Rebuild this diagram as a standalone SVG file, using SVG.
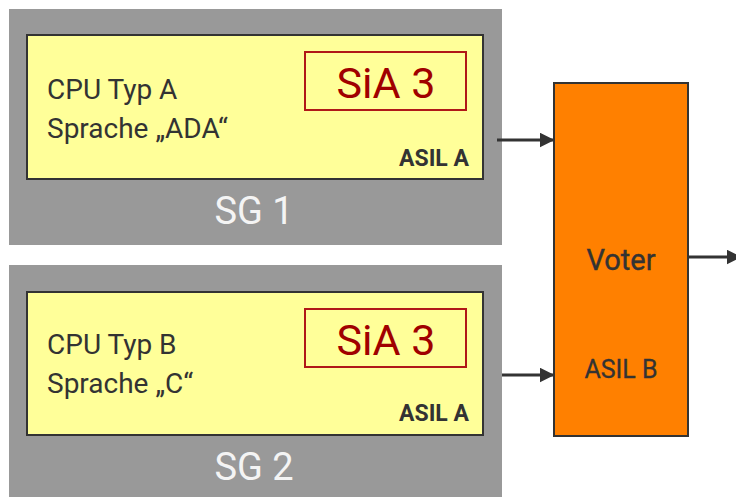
<svg xmlns="http://www.w3.org/2000/svg" width="736" height="497" viewBox="0 0 736 497">
  <style>
    .sg { fill: #999999; }
    .unit { fill: #ffff99; stroke: #333333; stroke-width: 2; }
    .sia { fill: none; stroke: #b01818; stroke-width: 2; }
    .txt { font-family: Roboto, "Liberation Sans", Arial, sans-serif; fill: #333333; }
    .main { font-size: 28px; }
    .siat { font-size: 43px; fill: #a00000; text-anchor: middle; }
    .asil { font-size: 23px; font-weight: bold; text-anchor: end; }
    .sgt { font-size: 38px; fill: #f4f4f4; text-anchor: middle; }
    .voter { fill: #ff8000; stroke: #333333; stroke-width: 2; }
    .vt { font-size: 29px; text-anchor: middle; stroke: #333333; stroke-width: 0.4; }
    .vs { font-size: 25px; text-anchor: middle; stroke: #333333; stroke-width: 0.3; }
    .conn { stroke: #333333; stroke-width: 3; fill: none; marker-end: url(#arrow); }
  </style>
  <defs>
    <marker id="arrow" markerWidth="5" markerHeight="5" refX="4.5" refY="2.5" orient="auto" markerUnits="strokeWidth">
      <path d="M0,0 L5,2.5 L0,5 Z" fill="#333333"/>
    </marker>
  </defs>

  <g id="sg1">
    <rect class="sg" x="9" y="9" width="493" height="236"/>
    <rect class="unit" x="27" y="35" width="456" height="144"/>
    <text class="txt main" x="47" y="99">CPU Typ A</text>
    <text class="txt main" x="47" y="138">Sprache „ADA“</text>
    <rect class="sia" x="305" y="52" width="161" height="58"/>
    <text class="txt siat" x="386" y="98">SiA 3</text>
    <text class="txt asil" x="469" y="166">ASIL A</text>
    <text class="txt sgt" x="254" y="224">SG 1</text>
  </g>

  <g id="sg2">
    <rect class="sg" x="9" y="265" width="493" height="232"/>
    <rect class="unit" x="27" y="292" width="456" height="143"/>
    <text class="txt main" x="47" y="354">CPU Typ B</text>
    <text class="txt main" x="47" y="393">Sprache „C“</text>
    <rect class="sia" x="305" y="309" width="161" height="58"/>
    <text class="txt siat" x="386" y="355">SiA 3</text>
    <text class="txt asil" x="469" y="421">ASIL A</text>
    <text class="txt sgt" x="254" y="480">SG 2</text>
  </g>

  <g id="voter">
    <rect class="voter" x="554" y="83" width="134" height="353"/>
    <text class="txt vt" x="621" y="270">Voter</text>
    <text class="txt vs" x="621" y="378">ASIL B</text>
  </g>

  <g id="connectors">
    <line class="conn" x1="497" y1="140" x2="553" y2="140"/>
    <line class="conn" x1="502" y1="375" x2="553" y2="375"/>
    <line class="conn" x1="688" y1="257" x2="740" y2="257"/>
  </g>
</svg>
